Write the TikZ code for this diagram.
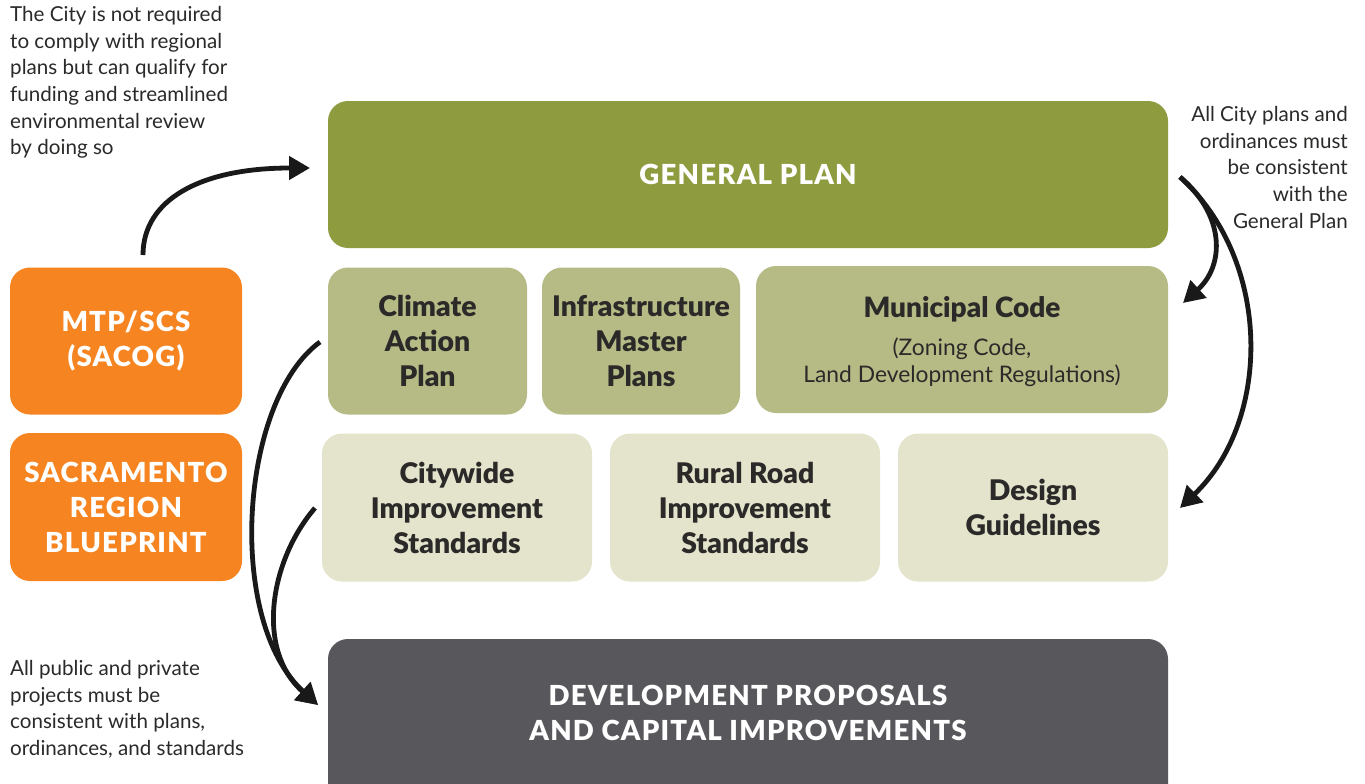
\documentclass[tikz,border=0pt]{standalone}
\usepackage{fontspec}
\setmainfont{Lato}
\newfontfamily\heavy{Lato Black}
\newfontfamily\heavycaps{Lato Black}[LetterSpace=4.5]
\usetikzlibrary{arrows.meta}
\definecolor{gpgreen}{HTML}{8F9B3F}
\definecolor{midgreen}{HTML}{B6BB86}
\definecolor{lightgreen}{HTML}{E4E4CD}
\definecolor{orng}{HTML}{F58421}
\definecolor{darkbox}{HTML}{58575B}
\definecolor{txt}{HTML}{2B2A29}
\tikzset{
  box/.style={rectangle, rounded corners=20pt, inner sep=0pt, align=center, text=txt,
    font=\fontsize{28.4}{35}\selectfont\heavy},
  whitebox/.style={box, text=white, font=\fontsize{27.6}{35}\selectfont\heavycaps},
  note/.style={inner sep=0pt, text=txt, font=\fontsize{20.6}{26.7}\selectfont},
  arr/.style={line width=4.8pt, draw=black!90, -{Triangle[length=21pt,width=23pt]}},
}
\begin{document}
\begin{tikzpicture}[x=1pt,y=-1pt]
\useasboundingbox (0,0) rectangle (1365,784);
\fill[white] (0,0) rectangle (1365,784);
% boxes
\node[whitebox, fill=gpgreen, minimum width=840pt, minimum height=147pt] (gp) at (748,174.5) {GENERAL PLAN};
\node[box, fill=midgreen, minimum width=199pt, minimum height=147pt] (cap) at (427.5,341) {Climate\\Action\\Plan};
\node[box, fill=midgreen, minimum width=198pt, minimum height=147pt] (imp) at (641,341) {Infrastructure\\Master\\Plans};
\node[box, fill=midgreen, minimum width=412pt, minimum height=147pt] (mc) at (962,339.5) {};
\node[box, fill=none, anchor=center, font=\fontsize{28}{35}\selectfont\heavy] (mctitle) at (962,309.5) {Municipal Code};
\node[note, align=center, font=\fontsize{22.8}{27}\selectfont] (mcsub) at (962,362) {(Zoning Code,\\Land Development Regulations)};
\node[box, fill=lightgreen, minimum width=270pt, minimum height=148pt] (cis) at (457,507.5) {Citywide\\Improvement\\Standards};
\node[box, fill=lightgreen, minimum width=270pt, minimum height=148pt] (rrs) at (745,507.5) {Rural Road\\Improvement\\Standards};
\node[box, fill=lightgreen, minimum width=270pt, minimum height=148pt] (dg) at (1033,507.5) {Design\\Guidelines};
\node[whitebox, fill=orng, minimum width=232pt, minimum height=147pt] (mtp) at (126,341) {MTP/SCS\\(SACOG)};
\node[whitebox, fill=orng, minimum width=232pt, minimum height=148pt] (srb) at (126,507) {SACRAMENTO\\REGION\\BLUEPRINT};
\begin{scope}
\clip (0,0) rectangle (1365,784);
\node[box, fill=darkbox, minimum width=840pt, minimum height=171pt] (dev) at (748,724.5) {};
\end{scope}
\node[whitebox] (devtext) at (748,713) {DEVELOPMENT PROPOSALS\\AND CAPITAL IMPROVEMENTS};
% notes
\node[note, align=left, anchor=north west] (n1) at (10,6) {The City is not required\\to comply with regional\\plans but can qualify for\\funding and streamlined\\environmental review\\by doing so};
\node[note, align=right, anchor=north east] (n2) at (1348,106) {All City plans and\\ordinances must\\be consistent\\with the\\General Plan};
\node[note, align=left, anchor=north west] (n3) at (10,660) {All public and private\\projects must be\\consistent with plans,\\ordinances, and standards};
% arrow endpoints
\coordinate (a1s) at (143,255);
\coordinate (a1e) at (310,168);
\coordinate (rs) at (1180,177);
\coordinate (r1e) at (1183,303);
\coordinate (r2e) at (1180,508);
\coordinate (l1s) at (320,342);
\coordinate (l2s) at (315,508);
\coordinate (le) at (318,705);
\draw[arr] (a1s) .. controls (143,200) and (200,168) .. (a1e);
\draw[arr] (rs) .. controls (1225,215) and (1225,265) .. (r1e);
\draw[arr] (rs) .. controls (1272,260) and (1272,420) .. (r2e);
\draw[arr] (l1s) .. controls (240,400) and (225,620) .. (le);
\draw[arr] (l2s) .. controls (270,560) and (255,650) .. (le);
\end{tikzpicture}
\end{document}
